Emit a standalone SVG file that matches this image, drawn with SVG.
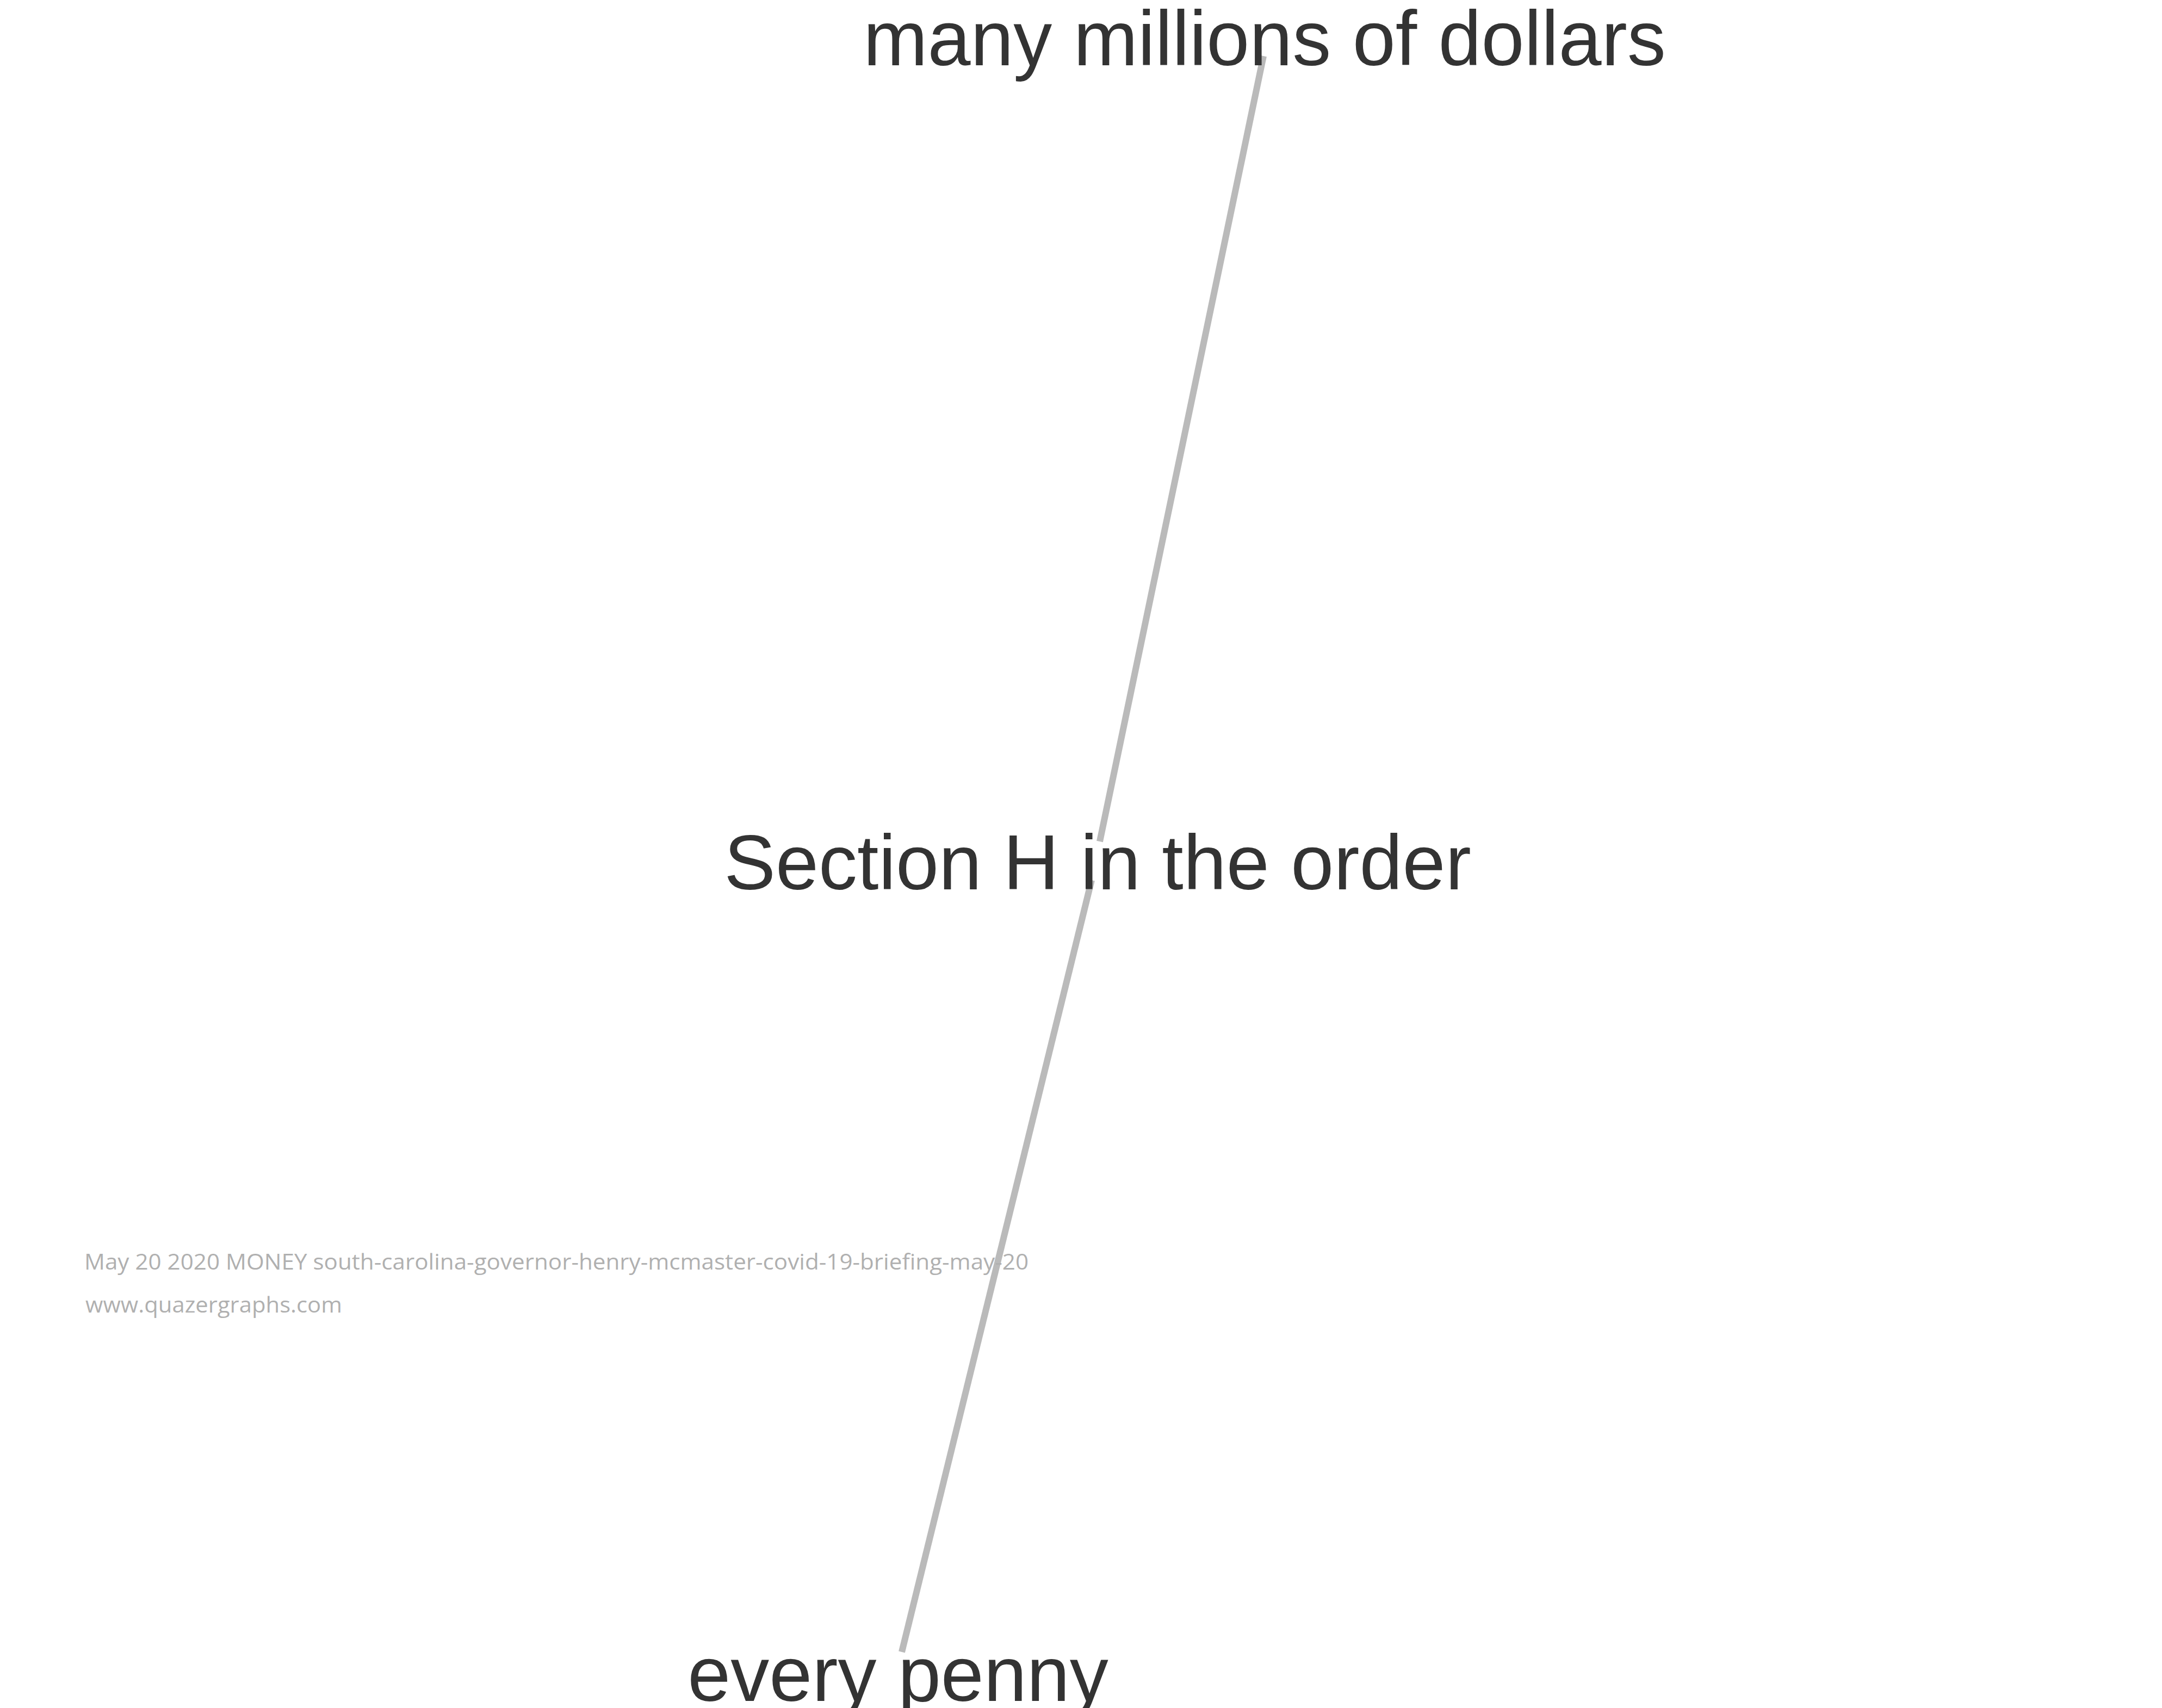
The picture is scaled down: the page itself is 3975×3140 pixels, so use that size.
<svg xmlns="http://www.w3.org/2000/svg" width="3975" height="3140" viewBox="0 0 3975 3140">
<style>
.lbl{font-family:"Liberation Sans",Arial,sans-serif;font-size:142px;fill:#333333;text-anchor:middle}
.edge{stroke:#bababa;stroke-width:12;fill:none}
.foot{font-family:"Open Sans","Noto Sans",sans-serif;font-size:40px;fill:#b0b0b0}
</style>
<rect width="3975" height="3140" fill="#ffffff"/>
<g id="connectors">
<line class="edge" x1="2323" y1="103" x2="2022" y2="1547"/>
<line class="edge" x1="2007" y1="1618" x2="1658" y2="3037"/>
</g>
<g id="node-many-millions"><text class="lbl" x="2325" y="120">many millions of dollars</text></g>
<g id="node-section-h"><text class="lbl" x="2018" y="1635">Section H in the order</text></g>
<g id="node-every-penny"><text class="lbl" x="1651" y="3127">every penny</text></g>
<g id="footer">
<text class="foot" x="155" y="2334" textLength="1736" lengthAdjust="spacingAndGlyphs">May 20 2020 MONEY south-carolina-governor-henry-mcmaster-covid-19-briefing-may-20</text>
<text class="foot" x="157" y="2413" textLength="472" lengthAdjust="spacingAndGlyphs">www.quazergraphs.com</text>
</g>
</svg>
